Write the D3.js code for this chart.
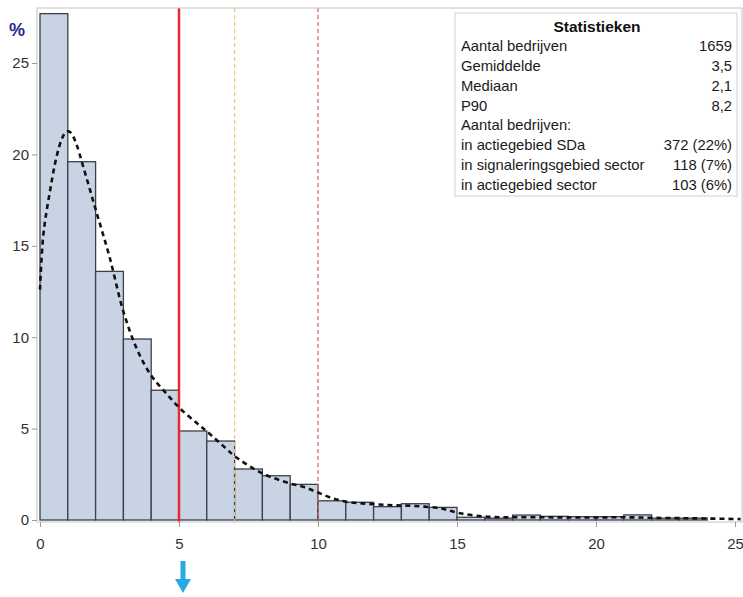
<!DOCTYPE html>
<html>
<head>
<meta charset="utf-8">
<script src="https://cdn.jsdelivr.net/npm/d3@7"></script>
<style>
  body { margin: 0; background: #fff; }
  svg { display: block; font-family: "Liberation Sans", Arial, sans-serif; }
</style>
</head>
<body>
<svg id="chart"></svg>
<script>
// Histogram bins (width 1), percent of companies
const binStarts = d3.range(0, 24);
const binPct = [27.7, 19.6, 13.6, 9.9, 7.1, 4.87, 4.32, 2.79, 2.42, 1.95,
                1.05, 0.97, 0.73, 0.89, 0.69, 0.15, 0.1, 0.27, 0.2, 0.18,
                0.18, 0.28, 0.1, 0.1];

// Density curve
const curveX = [0, 0.12, 0.36, 0.6, 0.8, 0.95, 1.1, 1.3, 1.56, 2.0, 2.5, 3.0, 3.5, 4.0, 4.5,
                5.04, 5.64, 6.0, 6.7, 7.0, 8.0, 9.0, 9.5, 10.0, 10.5, 11.0, 11.6, 12.5,
                13.4, 14.4, 15.1, 16.1, 17, 18, 19, 20, 21, 22, 23, 24, 25.2];
const curveY = [12.6, 15.6, 18.0, 19.9, 20.9, 21.25, 21.2, 20.6, 19.3, 17.0, 14.4, 11.4, 9.3, 7.9, 7.0,
                6.1, 5.3, 4.85, 3.9, 3.5, 2.55, 2.0, 1.8, 1.5, 1.2, 1.0, 0.91, 0.82,
                0.77, 0.64, 0.37, 0.18, 0.15, 0.15, 0.14, 0.14, 0.15, 0.12, 0.1, 0.08, 0.05];

const xTicks = [0, 5, 10, 15, 20, 25];
const yTicks = [0, 5, 10, 15, 20, 25];

// Reference lines
const refLines = [
  { value: 5,  color: '#e8282c', width: 2.5, dash: null },
  { value: 7,  color: '#f2c46e', width: 1.2, dash: '4,3' },
  { value: 10, color: '#e05a5e', width: 1.2, dash: '4,3' }
];

// Statistics table
const statLabels = ['Aantal bedrijven', 'Gemiddelde', 'Mediaan', 'P90', 'Aantal bedrijven:',
                    'in actiegebied SDa', 'in signaleringsgebied sector', 'in actiegebied sector'];
const statValues = ['1659', '3,5', '2,1', '8,2', '', '372 (22%)', '118 (7%)', '103 (6%)'];

const width = 743, height = 597;
const svg = d3.select('#chart').attr('width', width).attr('height', height);

const x = d3.scaleLinear().domain([0, 25]).range([40, 735]);
const y = d3.scaleLinear().domain([0, 25]).range([520, 63]);

const frame = { left: 37, top: 8, right: 742, bottom: 522 };

// Bars
svg.append('g')
   .selectAll('rect')
   .data(binStarts)
   .join('rect')
   .attr('x', d => x(d))
   .attr('y', (d, i) => y(binPct[i]))
   .attr('width', d => x(d + 1) - x(d))
   .attr('height', (d, i) => y(0) - y(binPct[i]))
   .attr('fill', '#c8d4e4')
   .attr('stroke', '#3b404a')
   .attr('stroke-width', 1.3);

// Reference lines
svg.append('g')
   .selectAll('line')
   .data(refLines)
   .join('line')
   .attr('x1', d => x(d.value))
   .attr('x2', d => x(d.value))
   .attr('y1', frame.top)
   .attr('y2', frame.bottom)
   .attr('stroke', d => d.color)
   .attr('stroke-width', d => d.width)
   .attr('stroke-dasharray', d => d.dash);

// Density curve
const lineGen = d3.line()
  .x((d, i) => x(curveX[i]))
  .y(d => y(d))
  .curve(d3.curveCatmullRom.alpha(0.5));

svg.append('path')
   .datum(curveY)
   .attr('d', lineGen)
   .attr('fill', 'none')
   .attr('stroke', '#111')
   .attr('stroke-width', 2.6)
   .attr('stroke-dasharray', '5,4');

// Frame
svg.append('rect')
   .attr('x', frame.left)
   .attr('y', frame.top)
   .attr('width', frame.right - frame.left)
   .attr('height', frame.bottom - frame.top)
   .attr('fill', 'none')
   .attr('stroke', '#c4c4c4')
   .attr('stroke-width', 1);

// Axes
const xAxis = svg.append('g')
   .attr('transform', 'translate(0,' + frame.bottom + ')')
   .call(d3.axisBottom(x).tickValues(xTicks).tickSize(5).tickPadding(11));
const yAxis = svg.append('g')
   .attr('transform', 'translate(' + frame.left + ',0)')
   .call(d3.axisLeft(y).tickValues(yTicks).tickSize(5).tickPadding(3));

[xAxis, yAxis].forEach(ax => {
  ax.select('.domain').remove();
  ax.selectAll('.tick line').attr('stroke', '#9a9a9a');
  ax.selectAll('.tick text')
    .attr('fill', '#333')
    .style('font-size', '15px')
    .style('font-family', '"Liberation Sans", Arial, sans-serif');
});

// Y unit label
svg.append('text')
   .attr('x', 17)
   .attr('y', 36)
   .attr('text-anchor', 'middle')
   .attr('fill', '#1f2a8a')
   .attr('font-size', '18px')
   .attr('font-weight', 'bold')
   .text('%');

// Statistics box
const box = { x: 455, y: 13, w: 282, h: 183 };
svg.append('rect')
   .attr('x', box.x)
   .attr('y', box.y)
   .attr('width', box.w)
   .attr('height', box.h)
   .attr('fill', '#fff')
   .attr('stroke', '#cfcfcf');

svg.append('text')
   .attr('x', 597)
   .attr('y', 32)
   .attr('text-anchor', 'middle')
   .attr('font-size', '15.5px')
   .attr('font-weight', 'bold')
   .attr('fill', '#111')
   .text('Statistieken');

const rowY = d3.scaleLinear().domain([0, 7]).range([51, 190]);
const stats = svg.append('g').attr('font-size', '14.8px').attr('fill', '#1a1a1a');
stats.selectAll('text.lbl')
   .data(statLabels)
   .join('text')
   .attr('class', 'lbl')
   .attr('x', 461)
   .attr('y', (d, i) => rowY(i))
   .text(d => d);
stats.selectAll('text.val')
   .data(statValues)
   .join('text')
   .attr('class', 'val')
   .attr('x', 732)
   .attr('y', (d, i) => rowY(i))
   .attr('text-anchor', 'end')
   .text(d => d);

// Blue arrow under the 5 mark
const ax5 = x(5) + 4;
svg.append('path')
   .attr('d', 'M' + (ax5 - 2.5) + ',561 V579 H' + (ax5 - 8) + ' L' + ax5 + ',593 L' + (ax5 + 8) + ',579 H' + (ax5 + 2.5) + ' V561 Z')
   .attr('fill', '#27a9e1');
</script>
</body>
</html>
